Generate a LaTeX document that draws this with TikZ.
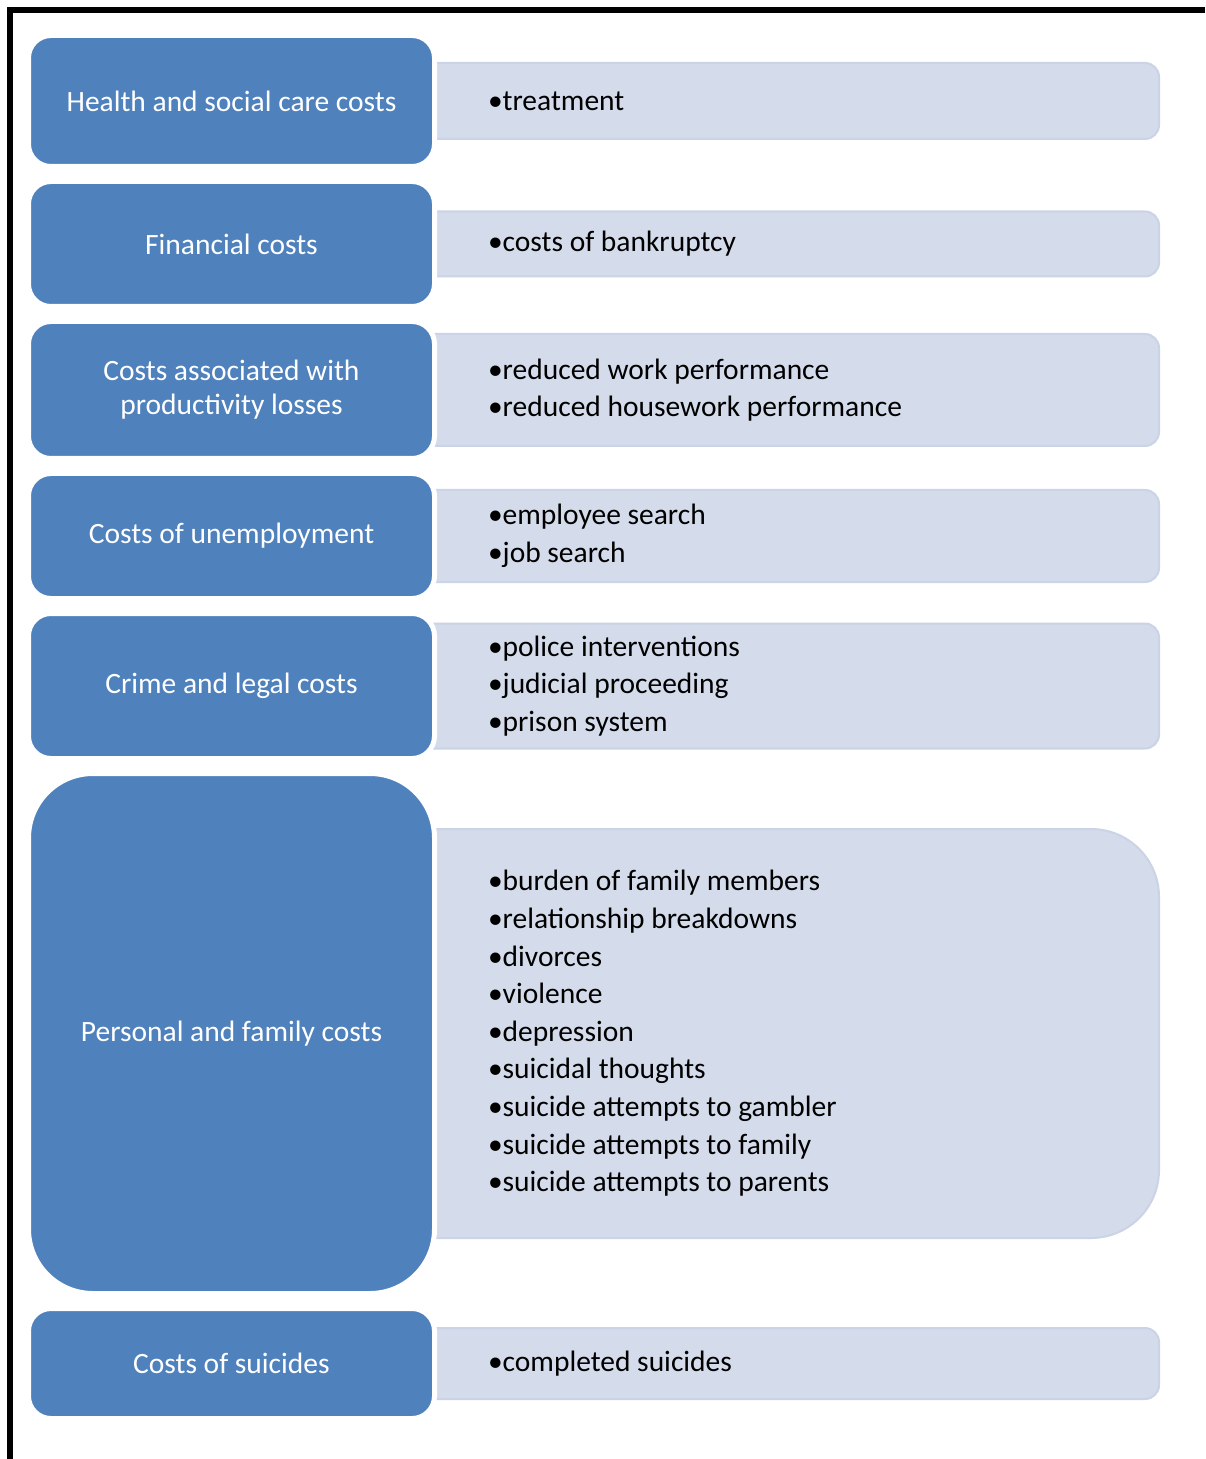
\documentclass[tikz,border=0pt]{standalone}
\usepackage{fontspec}
\setmainfont{Carlito}
\usepackage{tikz}
\usetikzlibrary{positioning,backgrounds}

\definecolor{costblue}{HTML}{4F81BD}
\definecolor{itemfill}{HTML}{D4DBEA}
\definecolor{itemedge}{HTML}{CBD3E6}

\begin{document}
\begin{tikzpicture}[
    node distance=7.5pt and -14pt, % items slide under the blue boxes
    category/.style={
        rectangle,
        draw=white,
        line width=2.5pt,
        outer sep=0pt,
        fill=costblue,
        text=white,
        rounded corners=11.25pt,
        minimum width=203pt,
        align=center,
        font=\fontsize{14.75}{17}\selectfont
    },
    items/.style={
        rectangle,
        draw=itemedge,
        line width=1pt,
        outer sep=0pt,
        fill=itemfill,
        rounded corners=7pt,
        text width=294.75pt,
        inner xsep=40.75pt,
        align=flush left,
        font=\fontsize{14.75}{18.8}\selectfont
    }
]

\useasboundingbox (0,0) rectangle (602.5pt,-729.5pt);

% Frame (top and left only)
\draw [line width=3pt] (5.15pt,-729.5pt) -- (5.15pt,-5.15pt) -- (602.5pt,-5.15pt);

% Cost categories
\node [category, minimum height=65.5pt, anchor=north west] (health) at (14.25pt,-17.75pt) {Health and social care costs};
\node [category, minimum height=62.5pt, below=of health] (financial) {Financial costs};
\node [category, minimum height=68.5pt, below=of financial] (productivity) {Costs associated with\\productivity losses};
\node [category, minimum height=62.5pt, below=of productivity] (unemployment) {Costs of unemployment};
\node [category, minimum height=72.5pt, below=of unemployment] (crime) {Crime and legal costs};
\node [category, minimum height=260pt, rounded corners=32.25pt, below=of crime] (personal) {Personal and family costs};
\node [category, minimum height=55pt, below=of personal] (suicides) {Costs of suicides};

% Items, behind the categories
\begin{scope}[on background layer]
\node [items, minimum height=38pt, right=of health] (healthitems) {•treatment};
\node [items, minimum height=32.5pt, right=of financial] (financialitems) {•costs of bankruptcy};
\node [items, minimum height=56pt, right=of productivity] (productivityitems) {•reduced work performance\\•reduced housework performance};
\node [items, minimum height=46pt, right=of unemployment] (unemploymentitems) {•employee search\\•job search};
\node [items, minimum height=62.5pt, right=of crime] (crimeitems) {•police interventions\\•judicial proceeding\\•prison system};
% big corners: tuck the left side further under
\node [items, minimum height=204.5pt, rounded corners=34pt, text width=272.75pt, inner xsep=62.75pt, right=-36pt of personal] (personalitems) {•burden of family members\\•relationship breakdowns\\•divorces\\•violence\\•depression\\•suicidal thoughts\\•suicide attempts to gambler\\•suicide attempts to family\\•suicide attempts to parents};
\node [items, minimum height=35.5pt, right=of suicides] (suicidesitems) {•completed suicides};
\end{scope}

\end{tikzpicture}
\end{document}
